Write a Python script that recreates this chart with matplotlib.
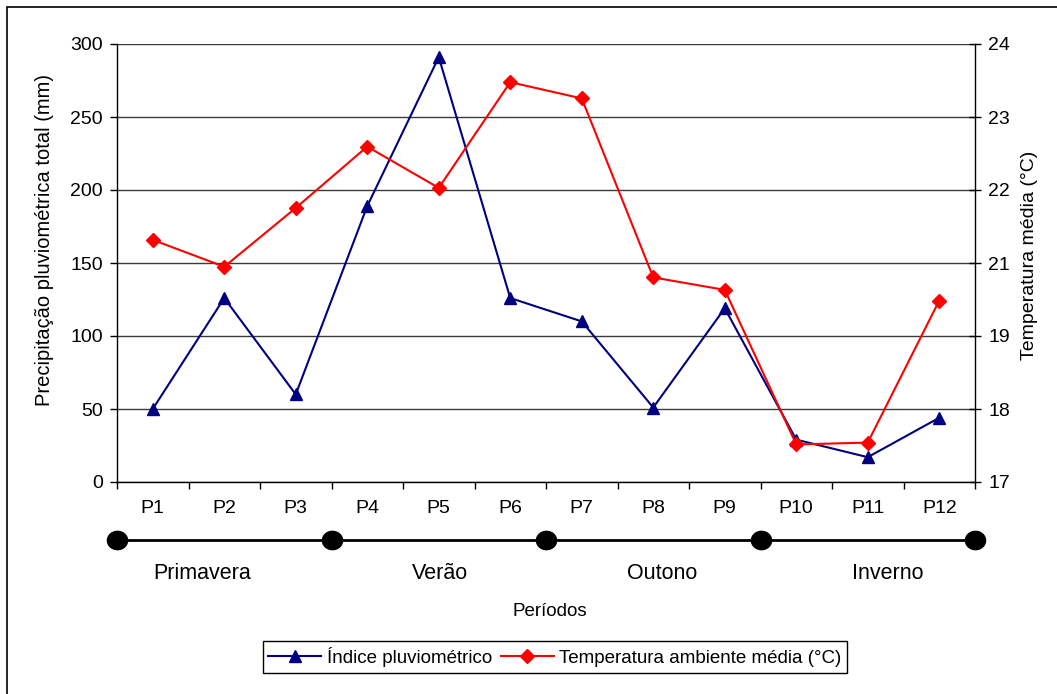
import numpy as np
import matplotlib
matplotlib.use("Agg")
import matplotlib.pyplot as plt
from matplotlib.path import Path
from matplotlib.patches import Rectangle
from matplotlib.ticker import FixedLocator, FuncFormatter

plt.rcParams['font.family'] = ['Liberation Sans', 'DejaVu Sans']

# Data
periodos = ["P1", "P2", "P3", "P4", "P5", "P6", "P7", "P8", "P9", "P10", "P11", "P12"]
precipitacao = [50, 126, 60, 189, 291, 126, 110, 51, 119, 29, 17, 44]
temperatura = [20.87, 20.44, 21.38, 22.36, 21.70, 23.39, 23.13, 20.27, 20.07, 17.60, 17.63, 19.90]
estacoes = ["Primavera", "Verão", "Outono", "Inverno"]
estacao_pos = [0.69, 4.02, 7.12, 10.28]
limites_estacoes = [-0.5, 2.5, 5.5, 8.5, 11.5]

W, H = 1057, 694
fig = plt.figure(figsize=(W / 100, H / 100), dpi=100)
fig.patch.set_facecolor("white")

# outer frame
fig.add_artist(Rectangle((7 / W, -0.05), 1.1, (H - 7) / H + 0.05, transform=fig.transFigure,
                         fill=False, edgecolor="black", linewidth=1.2))

ax = fig.add_axes([117 / W, (H - 482) / H, (975 - 117) / W, (482 - 44) / H])
x = np.arange(len(periodos))

ax.set_xlim(-0.5, 11.5)
ax.set_ylim(0, 300)
ax.set_yticks(np.arange(0, 301, 50))
ax.grid(axis="y", color="#3a3a3a", linewidth=1.0)
ax.set_axisbelow(True)
for s in ["top", "right"]:
    ax.spines[s].set_visible(False)
ax.spines["left"].set_linewidth(1.0)
ax.spines["bottom"].set_linewidth(1.0)

ax.xaxis.set_major_locator(FixedLocator(np.arange(-0.5, 12, 1)))
ax.xaxis.set_major_formatter(FuncFormatter(lambda v, p: ""))
ax.tick_params(axis="x", direction="out", length=5, width=1)
ax.tick_params(axis="y", direction="out", length=5, width=1, labelsize=14, pad=5)

ax2 = ax.twinx()
ax2.set_ylim(17, 24)
ax2.yaxis.set_major_locator(FixedLocator(np.linspace(17, 24, 7)))
ax2.yaxis.set_major_formatter(FuncFormatter(lambda v, p: f"{int(np.floor(v + 0.5))}"))
ax2.tick_params(axis="y", direction="inout", length=9, width=1, labelsize=14, pad=5)
for s in ["top", "left", "bottom"]:
    ax2.spines[s].set_visible(False)
ax2.spines["right"].set_linewidth(1.0)

l1, = ax.plot(x, precipitacao, color="#000080", linewidth=1.5, marker="^",
              markersize=9, markerfacecolor="#000080", markeredgecolor="#000080", zorder=3)
l2, = ax2.plot(x, temperatura, color="#FF0000", linewidth=1.5, marker="D",
               markersize=7, markerfacecolor="#FF0000", markeredgecolor="#FF0000", zorder=3)

# period labels below the axis
trans = ax.get_xaxis_transform()
for xi, lab in zip(x, periodos):
    ax.text(xi, -0.0594, lab, transform=trans, ha="center", va="center", fontsize=14, clip_on=False)

# season timeline
y_line = -0.1324
ax.plot([limites_estacoes[0], limites_estacoes[-1]], [y_line, y_line], transform=trans,
        color="black", linewidth=2, clip_on=False, zorder=4)
theta = np.linspace(0, 2 * np.pi, 60)
ellipse = Path(np.column_stack([1.1 * np.cos(theta), np.sin(theta)]), closed=True)
ax.plot(limites_estacoes, [y_line] * len(limites_estacoes), transform=trans, linestyle="none",
        marker=ellipse, markersize=14.5, color="black", clip_on=False, zorder=5)
for xp, lab in zip(estacao_pos, estacoes):
    ax.text(xp, -0.208, lab, transform=trans, ha="center", va="center", fontsize=15.5, clip_on=False)

fig.text(550 / W, 1 - 612 / H, "Períodos", ha="center", va="center", fontsize=13.5)
fig.text(45 / W, 1 - 240 / H, "Precipitação pluviométrica total (mm)", rotation=90,
         ha="center", va="center", fontsize=14.5)
fig.text(1030 / W, 1 - 255 / H, "Temperatura média (°C)", rotation=90,
         ha="center", va="center", fontsize=14)

leg = fig.legend([l1, l2], ["Índice pluviométrico", "Temperatura ambiente média (°C)"],
                 loc="center", bbox_to_anchor=(555 / W, 1 - 657 / H), ncol=2, fontsize=13.5,
                 frameon=True, fancybox=False, shadow=False, framealpha=1, edgecolor="black",
                 handlelength=2.8, columnspacing=0.5, handletextpad=0.3, borderpad=0.3)
leg.get_frame().set_linewidth(1.0)

fig.savefig("out.png", dpi=100, facecolor="white")
